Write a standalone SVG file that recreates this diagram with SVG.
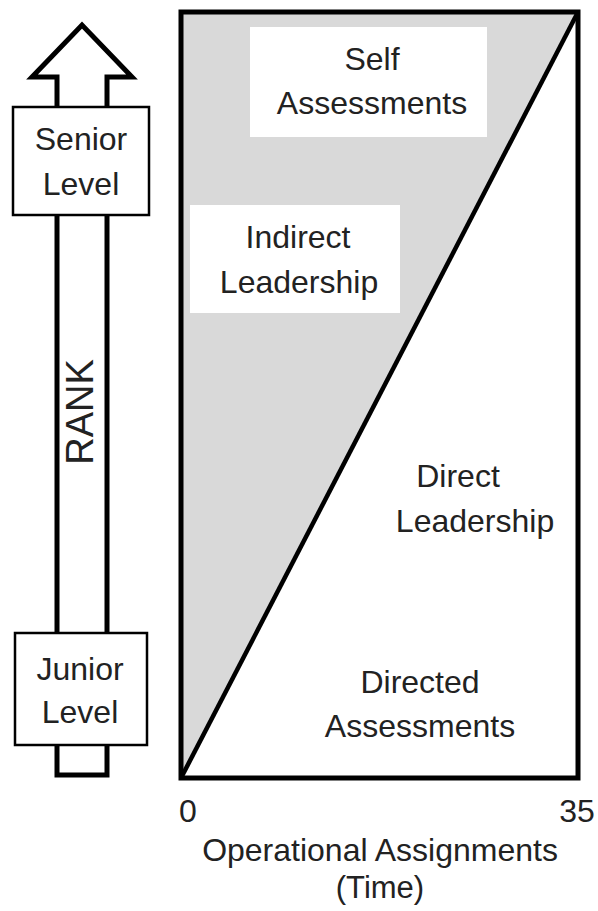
<svg xmlns="http://www.w3.org/2000/svg" width="598" height="911" viewBox="0 0 598 911">
<style>
text{font-family:"Liberation Sans",Arial,sans-serif;font-size:32px;fill:#222;text-anchor:middle}
.box{fill:#fff;stroke:#000;stroke-width:2.5}
.wb{fill:#fff;stroke:none}
</style>
<rect width="598" height="911" fill="#fff"/>
<g id="rank-arrow">
<path d="M57,775 L57,77 L32,77 L82,25 L132,77 L107,77 L107,775 Z" fill="#fff" stroke="#000" stroke-width="5" stroke-linejoin="miter"/>
<text transform="translate(93,412) rotate(-90)" style="font-size:38px">RANK</text>
</g>
<g id="senior">
<rect class="box" x="13" y="107" width="136" height="108"/>
<text x="81" y="150">Senior</text>
<text x="81" y="195">Level</text>
</g>
<g id="junior">
<rect class="box" x="15" y="633" width="132" height="112"/>
<text x="80" y="680">Junior</text>
<text x="80" y="723">Level</text>
</g>
<g id="chart">
<polygon points="181,12 578,12 181,778" fill="#d9d9d9"/>
<line x1="181" y1="778" x2="578" y2="12" stroke="#000" stroke-width="4.5"/>
<rect x="181" y="12" width="397" height="766" fill="none" stroke="#000" stroke-width="5"/>
</g>
<g id="self">
<rect class="wb" x="250" y="27" width="237" height="110"/>
<text x="372" y="70">Self</text>
<text x="372" y="114">Assessments</text>
</g>
<g id="indirect">
<rect class="wb" x="190" y="205" width="210" height="108"/>
<text x="298" y="248">Indirect</text>
<text x="299" y="293">Leadership</text>
</g>
<g id="direct">
<text x="458" y="487">Direct</text>
<text x="475" y="532">Leadership</text>
</g>
<g id="directed">
<text x="420" y="693">Directed</text>
<text x="420" y="737">Assessments</text>
</g>
<g id="axis">
<text x="188" y="822">0</text>
<text x="577" y="822">35</text>
<text x="380" y="861">Operational Assignments</text>
<text x="380" y="898" style="font-size:31px">(Time)</text>
</g>
</svg>
